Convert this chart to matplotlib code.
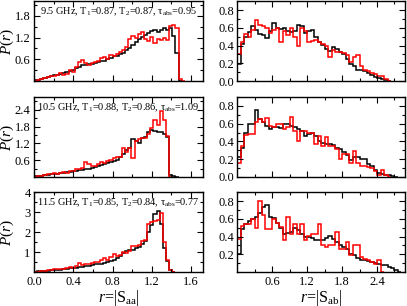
import numpy as np
import matplotlib
matplotlib.use("Agg")
import matplotlib.pyplot as plt
from matplotlib.ticker import MultipleLocator, FixedLocator

plt.rcParams['font.family'] = ['Liberation Serif', 'DejaVu Serif']
plt.rcParams['mathtext.fontset'] = 'custom'
plt.rcParams['mathtext.rm'] = 'Liberation Serif'
plt.rcParams['mathtext.it'] = 'Liberation Serif:italic'

# bin widths of the histograms
width_aa = 0.032
width_ab = 0.06

labels = ["9.5 GHz, T$_1$=0.87, T$_2$=0.87, τ$_{\\rm abs}$=0.95",
          "10.5 GHz, T$_1$=0.88, T$_2$=0.86, τ$_{\\rm abs}$=1.09",
          "11.5 GHz, T$_1$=0.85, T$_2$=0.84, τ$_{\\rm abs}$=0.77"]

# |S_aa| distributions, black = experiment, red = RMT
aa_black_95 = [0.02, 0.04, 0.06, 0.09, 0.11, 0.14, 0.16, 0.17, 0.19, 0.21,
               0.24, 0.27, 0.31, 0.37, 0.40, 0.45, 0.43, 0.47, 0.46, 0.50,
               0.52, 0.54, 0.55, 0.60, 0.64, 0.68, 0.70, 0.74, 0.78, 0.85,
               0.92, 1.00, 1.07, 1.15, 1.22, 1.28, 1.32, 1.38, 1.40, 1.36,
               1.42, 1.45, 1.40, 1.45, 1.25, 0.76, 0.0]
aa_red_95 = [0.0, 0.02, 0.05, 0.08, 0.10, 0.13, 0.15, 0.18, 0.21, 0.17,
             0.20, 0.30, 0.26, 0.40, 0.52, 0.58, 0.50, 0.44, 0.49, 0.52,
             0.55, 0.63, 0.66, 0.62, 0.72, 0.70, 0.75, 0.80, 0.87, 0.95,
             1.15, 1.25, 1.20, 1.30, 1.35, 1.15, 1.10, 1.22, 1.05, 1.15,
             1.12, 1.20, 1.13, 1.53, 1.55, 1.45, 0.06, 0.0]

aa_black_105 = [0.03, 0.04, 0.05, 0.06, 0.08, 0.09, 0.10, 0.12, 0.13, 0.15,
                0.17, 0.18, 0.20, 0.22, 0.24, 0.26, 0.28, 0.30, 0.33, 0.36,
                0.40, 0.43, 0.46, 0.50, 0.53, 0.58, 0.62, 0.70, 0.82, 0.95,
                1.05, 1.35, 1.30, 1.22, 1.38, 1.42, 1.60, 1.66, 1.65, 1.62,
                1.60, 1.52, 1.42, 0.06, 0.03, 0.0]
aa_red_105 = [0.0, 0.02, 0.04, 0.07, 0.10, 0.12, 0.13, 0.12, 0.15, 0.17,
              0.16, 0.20, 0.22, 0.27, 0.28, 0.32, 0.55, 0.45, 0.38, 0.40,
              0.45, 0.52, 0.50, 0.58, 0.60, 0.66, 0.72, 0.70, 1.05, 0.90,
              1.05, 0.68, 1.30, 1.35, 1.40, 1.38, 1.55, 1.75, 2.05, 1.85,
              2.35, 2.05, 1.45, 0.0]

aa_black_115 = [0.02, 0.03, 0.04, 0.05, 0.06, 0.08, 0.10, 0.11, 0.12, 0.14,
                0.16, 0.18, 0.20, 0.22, 0.25, 0.26, 0.30, 0.32, 0.36, 0.38,
                0.40, 0.42, 0.45, 0.50, 0.55, 0.62, 0.70, 0.80, 0.95, 1.05,
                1.10, 1.12, 1.18, 1.25, 1.40, 1.55, 2.00, 2.35, 2.90, 3.05,
                2.40, 1.20, 0.55, 0.12, 0.0]
aa_red_115 = [0.0, 0.02, 0.04, 0.06, 0.08, 0.10, 0.13, 0.15, 0.14, 0.16,
              0.20, 0.24, 0.22, 0.30, 0.45, 0.35, 0.42, 0.38, 0.45, 0.50,
              0.48, 0.62, 0.68, 0.58, 0.75, 0.90, 0.80, 0.85, 1.00, 0.95,
              1.05, 1.28, 1.30, 1.35, 1.55, 1.60, 2.40, 2.50, 2.55, 2.60,
              2.95, 1.50, 0.60, 0.08, 0.0]

# |S_ab| distributions
ab_black_95 = [0.19, 0.42, 0.50, 0.55, 0.62, 0.58, 0.53, 0.52, 0.48, 0.56,
               0.66, 0.60, 0.59, 0.60, 0.57, 0.55, 0.56, 0.63, 0.62, 0.54,
               0.56, 0.58, 0.50, 0.44, 0.41, 0.36, 0.34, 0.38, 0.36, 0.33,
               0.30, 0.25, 0.19, 0.17, 0.13, 0.12, 0.11, 0.09, 0.07, 0.05,
               0.04, 0.02, 0.01, 0.0]
ab_red_95 = [0.30, 0.44, 0.53, 0.50, 0.58, 0.69, 0.63, 0.62, 0.60, 0.54,
             0.58, 0.60, 0.44, 0.56, 0.52, 0.60, 0.50, 0.39, 0.60, 0.57,
             0.44, 0.45, 0.46, 0.44, 0.42, 0.40, 0.27, 0.35, 0.33, 0.33,
             0.32, 0.29, 0.21, 0.27, 0.29, 0.17, 0.13, 0.11, 0.09, 0.08,
             0.06, 0.06, 0.02, 0.0]

ab_black_105 = [0.22, 0.33, 0.50, 0.60, 0.60, 0.76, 0.65, 0.62, 0.58, 0.54,
                0.56, 0.56, 0.55, 0.60, 0.60, 0.58, 0.56, 0.54, 0.52, 0.46,
                0.48, 0.50, 0.46, 0.40, 0.38, 0.37, 0.37, 0.36, 0.33, 0.32,
                0.28, 0.25, 0.19, 0.23, 0.22, 0.20, 0.20, 0.15, 0.12, 0.08,
                0.05, 0.03, 0.02, 0.02, 0.01, 0.0]
ab_red_105 = [0.16, 0.35, 0.47, 0.48, 0.49, 0.62, 0.65, 0.62, 0.67, 0.58,
              0.56, 0.60, 0.60, 0.54, 0.56, 0.68, 0.52, 0.41, 0.52, 0.52,
              0.50, 0.50, 0.37, 0.46, 0.35, 0.45, 0.35, 0.35, 0.31, 0.20,
              0.26, 0.26, 0.16, 0.29, 0.16, 0.12, 0.12, 0.11, 0.10, 0.07,
              0.02, 0.08, 0.02, 0.0]

ab_black_115 = [0.20, 0.49, 0.54, 0.57, 0.60, 0.62, 0.66, 0.73, 0.75, 0.62,
                0.61, 0.55, 0.50, 0.43, 0.44, 0.45, 0.50, 0.47, 0.43, 0.40,
                0.39, 0.38, 0.36, 0.36, 0.36, 0.38, 0.41, 0.37, 0.34, 0.30,
                0.28, 0.26, 0.20, 0.19, 0.16, 0.14, 0.13, 0.12, 0.11, 0.10,
                0.09, 0.08, 0.075, 0.06, 0.04, 0.02, 0.0]
ab_red_115 = [0.37, 0.52, 0.54, 0.54, 0.60, 0.50, 0.80, 0.64, 0.49, 0.49,
              0.60, 0.55, 0.51, 0.36, 0.62, 0.43, 0.54, 0.43, 0.54, 0.36,
              0.41, 0.43, 0.43, 0.54, 0.30, 0.28, 0.30, 0.30, 0.45, 0.26,
              0.26, 0.34, 0.19, 0.30, 0.30, 0.17, 0.15, 0.13, 0.11, 0.09,
              0.13, 0.0]

aa_data = [(aa_black_95, aa_red_95), (aa_black_105, aa_red_105), (aa_black_115, aa_red_115)]
ab_data = [(ab_black_95, ab_red_95), (ab_black_105, ab_red_105), (ab_black_115, ab_red_115)]

aa_ymax = [2.2, 2.85, 4.0]
aa_yticks = [[0.6, 1.2, 1.8], [0.6, 1.2, 1.8, 2.4], [1, 2, 3, 4]]
aa_yminor = [0.3, 0.3, 0.5]
ab_yticks = [[0, 0.2, 0.4, 0.6, 0.8], [0, 0.2, 0.4, 0.6, 0.8], [0.2, 0.4, 0.6, 0.8]]


def draw_hist(ax, values, width, color):
    edges = width * np.arange(len(values) + 1)
    ax.stairs(values, edges, color=color, lw=1.1)


def style_axes(ax):
    ax.tick_params(which='both', direction='in', top=True, right=True, labelsize=9, pad=2.5)
    ax.tick_params(which='major', length=4, width=0.8)
    ax.tick_params(which='minor', length=2.2, width=0.8)
    for s in ax.spines.values():
        s.set_linewidth(1.0)


fig = plt.figure(figsize=(4.07, 3.06), dpi=100)
bottoms = [0.735, 0.4216, 0.111]
height = 0.261

for row in range(3):
    axl = fig.add_axes([0.0835, bottoms[row], 0.415, height])
    axr = fig.add_axes([0.5835, bottoms[row], 0.4115, height])

    black, red = aa_data[row]
    draw_hist(axl, black, width_aa, 'black')
    draw_hist(axl, red, width_aa, 'red')
    axl.set_xlim(0, 1.72)
    axl.set_ylim(0, aa_ymax[row])
    axl.xaxis.set_major_locator(MultipleLocator(0.4))
    axl.xaxis.set_minor_locator(MultipleLocator(0.2))
    axl.yaxis.set_major_locator(FixedLocator(aa_yticks[row]))
    axl.yaxis.set_minor_locator(MultipleLocator(aa_yminor[row]))
    style_axes(axl)
    axl.set_ylabel('$P(r)$', fontsize=11)
    axl.yaxis.set_label_coords(-0.105, 0.5)
    axl.text(0.5, 0.865, labels[row], transform=axl.transAxes, ha='center', va='center', fontsize=7.4)

    black, red = ab_data[row]
    draw_hist(axr, black, width_ab, 'black')
    draw_hist(axr, red, width_ab, 'red')
    axr.set_xlim(0, 2.88)
    axr.set_ylim(0, 0.9)
    axr.xaxis.set_major_locator(FixedLocator([0.6, 1.2, 1.8, 2.4]))
    axr.xaxis.set_minor_locator(FixedLocator([0.3, 0.9, 1.5, 2.1, 2.7]))
    axr.yaxis.set_major_locator(FixedLocator(ab_yticks[row]))
    axr.yaxis.set_minor_locator(MultipleLocator(0.1))
    style_axes(axr)

    if row < 2:
        axl.set_xticklabels([])
        axr.set_xticklabels([])
    else:
        axl.set_xlabel('$r$=|S$_{\\rm aa}$|', fontsize=11.5, labelpad=0)
        axr.set_xlabel('$r$=|S$_{\\rm ab}$|', fontsize=11.5, labelpad=0)

fig.savefig('out.png', dpi=100)
